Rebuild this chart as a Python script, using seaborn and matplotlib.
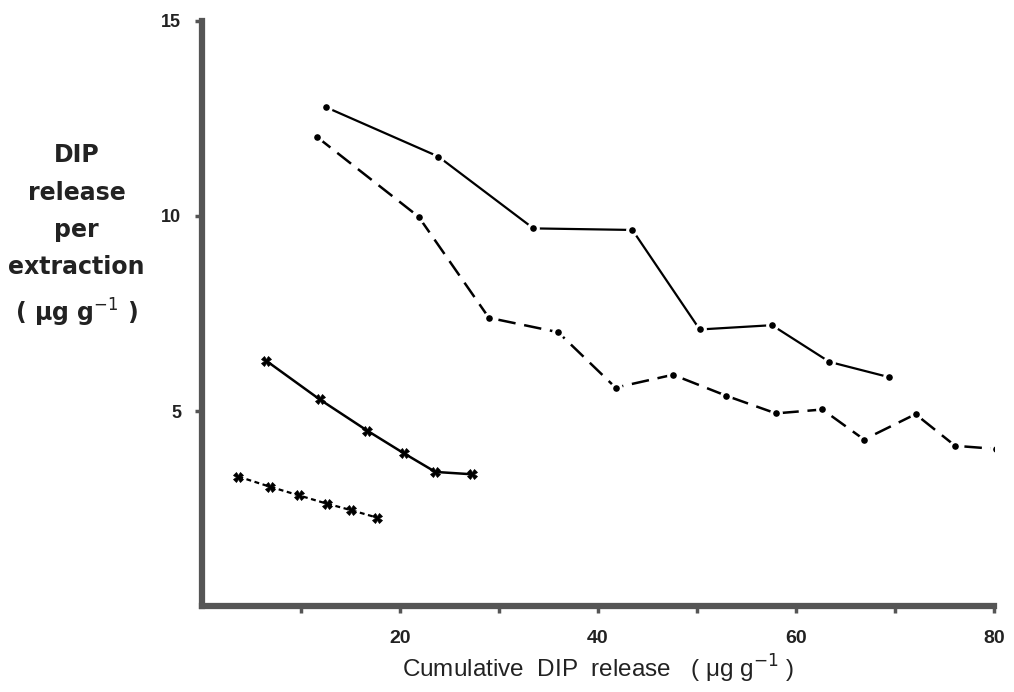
import matplotlib
matplotlib.use("Agg")
import matplotlib.pyplot as plt
import seaborn as sns
import pandas as pd

# Series data
top_x = [12.5, 23.9, 33.5, 43.5, 50.3, 57.6, 63.4, 69.4]
top_y = [12.79, 11.52, 9.68, 9.64, 7.09, 7.20, 6.26, 5.87]

dash_x = [11.6, 21.9, 29.0, 36.0, 41.8, 47.6, 53.0, 58.0, 62.7, 66.9, 72.1, 76.1, 80.2]
dash_y = [12.03, 9.98, 7.39, 7.02, 5.60, 5.93, 5.39, 4.94, 5.04, 4.27, 4.92, 4.11, 4.03]

cross_x = [6.5, 11.9, 16.7, 20.4, 23.6, 27.3]
cross_y = [6.29, 5.30, 4.50, 3.92, 3.44, 3.38]

dot_x = [3.7, 6.9, 9.8, 12.6, 15.1, 17.7]
dot_y = [3.32, 3.06, 2.84, 2.63, 2.46, 2.27]

x_ticks = [10, 20, 30, 40, 50, 60, 70, 80]
x_ticklabels = ["", "20", "", "40", "", "60", "", "80"]
y_ticks = [5, 10, 15]
y_ticklabels = ["5", "10", "15"]

sns.set_style("white")
plt.rcParams['font.family'] = ['Liberation Sans', 'DejaVu Sans']

fig = plt.figure(figsize=(10.14, 6.92), dpi=100)
ax = fig.add_axes([0.199, 0.124, 0.781, 0.846])

def draw(xs, ys, marker, ms, dashes, lw, mec, mew):
    df = pd.DataFrame({"x": xs, "y": ys})
    sns.lineplot(data=df, x="x", y="y", ax=ax, color="black", marker=marker,
                 markersize=ms, markeredgecolor=mec, markeredgewidth=mew,
                 markerfacecolor="black", linewidth=lw, estimator=None, sort=False)
    line = ax.lines[-1]
    if dashes is not None:
        line.set_dashes(dashes)

draw(top_x, top_y, "o", 7, None, 1.6, "white", 2.2)
draw(dash_x, dash_y, "o", 7, (7, 3.5), 1.8, "white", 2.2)
draw(cross_x, cross_y, "X", 7, None, 1.8, "black", 0.5)
draw(dot_x, dot_y, "X", 6.5, (2.2, 1.6), 1.6, "black", 0.5)

ax.set_xlim(0, 80)
ax.set_ylim(0, 15)
for side in ["top", "right"]:
    ax.spines[side].set_visible(False)
for side in ["left", "bottom"]:
    ax.spines[side].set_linewidth(4.5)
    ax.spines[side].set_color("#555555")

ax.set_xticks(x_ticks)
ax.set_xticklabels(x_ticklabels, fontsize=14, fontweight="bold", color="#222222")
ax.set_yticks(y_ticks)
ax.set_yticklabels(y_ticklabels, fontsize=13, fontweight="bold", color="#222222")
ax.tick_params(axis="both", which="major", direction="out", length=5, width=2.5,
               color="#555555", bottom=True, left=True)
ax.tick_params(axis="x", pad=12)
ax.tick_params(axis="y", pad=10)

ax.set_xlabel("Cumulative  DIP  release   ( μg g$^{-1}$ )", fontsize=17.5,
              color="#222222", labelpad=4)
ax.set_ylabel("DIP\nrelease\nper\nextraction\n( μg g$^{-1}$ )", rotation=0,
              fontsize=17, fontweight="bold", color="#222222", ha="center",
              va="center", linespacing=1.7,
              fontfamily=["DejaVu Sans"])
ax.yaxis.set_label_coords(-0.158, 0.632)

fig.savefig("out.png", dpi=100, facecolor="white")
